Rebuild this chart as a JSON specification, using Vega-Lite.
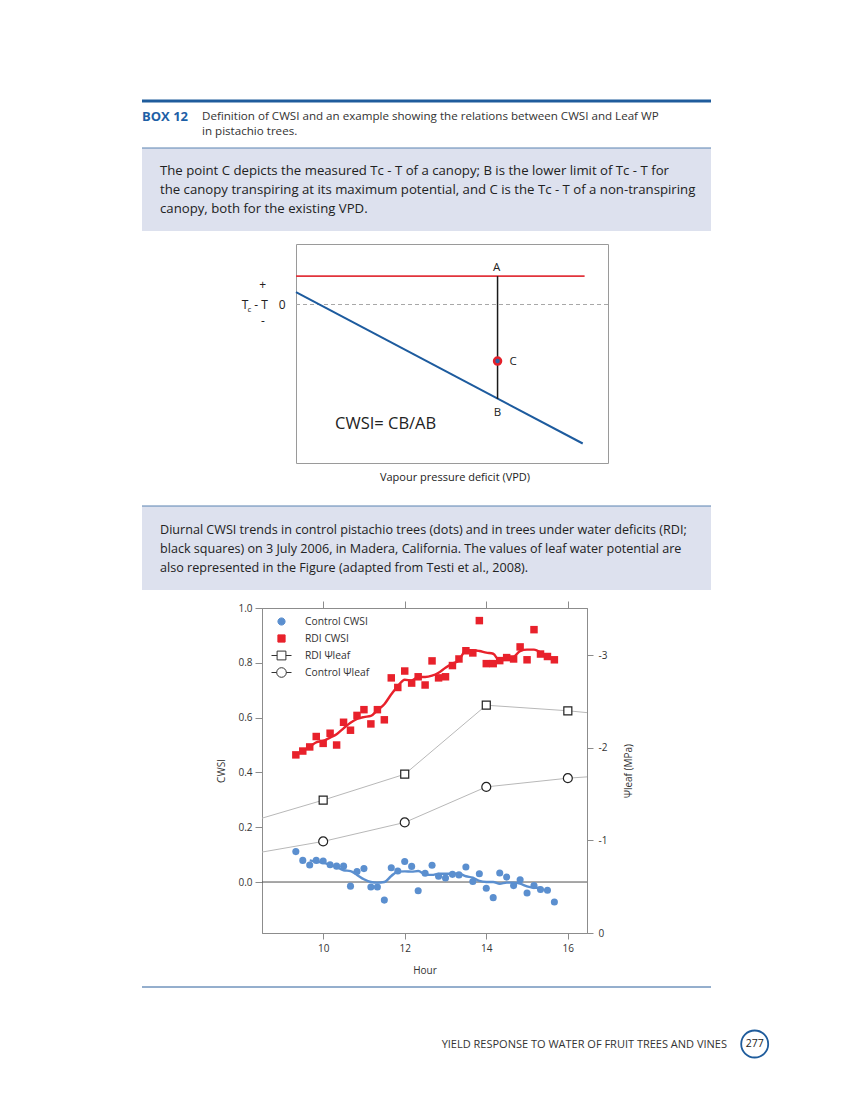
{
  "$schema": "https://vega.github.io/schema/vega-lite/v6.json",
  "background": "white",
  "padding": {"left": 140, "top": 97, "right": 0, "bottom": 0},
  "spacing": 0,
  "resolve": {"legend": {"shape": "independent", "fill": "independent", "stroke": "independent"}},
  "config": {
    "view": {"stroke": null},
    "font": "Open Sans",
    "concat": {"spacing": 0},
    "text": {"font": "Open Sans", "color": "#222222"},
    "axis": {"domainColor": "#8c8c8c", "tickColor": "#8c8c8c", "labelColor": "#333333", "labelFont": "Open Sans", "labelFontSize": 10, "titleFont": "Open Sans", "titleFontSize": 10, "titleFontWeight": "normal", "titleColor": "#333333", "grid": false}
  },
  "datasets": {
    "control_cwsi": [
      {"hour": 9.33, "cwsi": 0.111}, {"hour": 9.5, "cwsi": 0.079}, {"hour": 9.67, "cwsi": 0.062}, {"hour": 9.83, "cwsi": 0.079},
      {"hour": 10.0, "cwsi": 0.077}, {"hour": 10.17, "cwsi": 0.063}, {"hour": 10.33, "cwsi": 0.058}, {"hour": 10.5, "cwsi": 0.058},
      {"hour": 10.67, "cwsi": -0.015}, {"hour": 10.83, "cwsi": 0.038}, {"hour": 11.0, "cwsi": 0.049}, {"hour": 11.17, "cwsi": -0.018},
      {"hour": 11.33, "cwsi": -0.018}, {"hour": 11.5, "cwsi": -0.066}, {"hour": 11.67, "cwsi": 0.052}, {"hour": 11.83, "cwsi": 0.040},
      {"hour": 12.0, "cwsi": 0.075}, {"hour": 12.17, "cwsi": 0.057}, {"hour": 12.33, "cwsi": -0.032}, {"hour": 12.5, "cwsi": 0.032},
      {"hour": 12.67, "cwsi": 0.061}, {"hour": 12.83, "cwsi": 0.021}, {"hour": 13.0, "cwsi": 0.015}, {"hour": 13.17, "cwsi": 0.028},
      {"hour": 13.33, "cwsi": 0.026}, {"hour": 13.5, "cwsi": 0.055}, {"hour": 13.67, "cwsi": 0.002}, {"hour": 13.83, "cwsi": 0.030},
      {"hour": 14.0, "cwsi": -0.023}, {"hour": 14.17, "cwsi": -0.057}, {"hour": 14.33, "cwsi": 0.033}, {"hour": 14.5, "cwsi": 0.018},
      {"hour": 14.67, "cwsi": -0.013}, {"hour": 14.83, "cwsi": 0.008}, {"hour": 15.0, "cwsi": -0.040}, {"hour": 15.17, "cwsi": -0.013},
      {"hour": 15.33, "cwsi": -0.027}, {"hour": 15.5, "cwsi": -0.030}, {"hour": 15.67, "cwsi": -0.073}
    ],
    "rdi_cwsi": [
      {"hour": 9.33, "cwsi": 0.464}, {"hour": 9.5, "cwsi": 0.478}, {"hour": 9.67, "cwsi": 0.493}, {"hour": 9.83, "cwsi": 0.531},
      {"hour": 10.0, "cwsi": 0.506}, {"hour": 10.17, "cwsi": 0.543}, {"hour": 10.33, "cwsi": 0.500}, {"hour": 10.5, "cwsi": 0.583},
      {"hour": 10.67, "cwsi": 0.554}, {"hour": 10.83, "cwsi": 0.608}, {"hour": 11.0, "cwsi": 0.629}, {"hour": 11.17, "cwsi": 0.577},
      {"hour": 11.33, "cwsi": 0.629}, {"hour": 11.5, "cwsi": 0.592}, {"hour": 11.67, "cwsi": 0.745}, {"hour": 11.83, "cwsi": 0.710},
      {"hour": 12.0, "cwsi": 0.770}, {"hour": 12.17, "cwsi": 0.726}, {"hour": 12.33, "cwsi": 0.749}, {"hour": 12.5, "cwsi": 0.719},
      {"hour": 12.67, "cwsi": 0.807}, {"hour": 12.83, "cwsi": 0.745}, {"hour": 13.0, "cwsi": 0.749}, {"hour": 13.17, "cwsi": 0.790},
      {"hour": 13.33, "cwsi": 0.814}, {"hour": 13.5, "cwsi": 0.844}, {"hour": 13.67, "cwsi": 0.836}, {"hour": 13.83, "cwsi": 0.954},
      {"hour": 14.0, "cwsi": 0.797}, {"hour": 14.17, "cwsi": 0.797}, {"hour": 14.33, "cwsi": 0.808}, {"hour": 14.5, "cwsi": 0.819},
      {"hour": 14.67, "cwsi": 0.814}, {"hour": 14.83, "cwsi": 0.858}, {"hour": 15.0, "cwsi": 0.811}, {"hour": 15.17, "cwsi": 0.921},
      {"hour": 15.33, "cwsi": 0.832}, {"hour": 15.5, "cwsi": 0.823}, {"hour": 15.67, "cwsi": 0.811}
    ],
    "control_trend": [
      {"hour": 9.67, "cwsi": 0.079}, {"hour": 9.83, "cwsi": 0.074}, {"hour": 10.0, "cwsi": 0.071}, {"hour": 10.17, "cwsi": 0.062},
      {"hour": 10.33, "cwsi": 0.055}, {"hour": 10.5, "cwsi": 0.043}, {"hour": 10.67, "cwsi": 0.040}, {"hour": 10.83, "cwsi": 0.026},
      {"hour": 11.0, "cwsi": 0.010}, {"hour": 11.17, "cwsi": 0.000}, {"hour": 11.33, "cwsi": -0.002}, {"hour": 11.5, "cwsi": 0.000},
      {"hour": 11.67, "cwsi": 0.022}, {"hour": 11.83, "cwsi": 0.038}, {"hour": 12.0, "cwsi": 0.039}, {"hour": 12.17, "cwsi": 0.038},
      {"hour": 12.33, "cwsi": 0.040}, {"hour": 12.5, "cwsi": 0.028}, {"hour": 12.67, "cwsi": 0.026}, {"hour": 12.83, "cwsi": 0.030},
      {"hour": 13.0, "cwsi": 0.030}, {"hour": 13.17, "cwsi": 0.030}, {"hour": 13.33, "cwsi": 0.030}, {"hour": 13.5, "cwsi": 0.021},
      {"hour": 13.67, "cwsi": 0.016}, {"hour": 13.83, "cwsi": 0.004}, {"hour": 14.0, "cwsi": 0.000}, {"hour": 14.17, "cwsi": 0.000},
      {"hour": 14.33, "cwsi": -0.006}, {"hour": 14.5, "cwsi": -0.002}, {"hour": 14.67, "cwsi": -0.002}, {"hour": 14.83, "cwsi": -0.006},
      {"hour": 15.0, "cwsi": -0.016}, {"hour": 15.17, "cwsi": -0.021}, {"hour": 15.33, "cwsi": -0.021}
    ],
    "rdi_trend": [
      {"hour": 9.67, "cwsi": 0.493}, {"hour": 9.83, "cwsi": 0.510}, {"hour": 10.0, "cwsi": 0.515}, {"hour": 10.17, "cwsi": 0.527},
      {"hour": 10.33, "cwsi": 0.539}, {"hour": 10.5, "cwsi": 0.561}, {"hour": 10.67, "cwsi": 0.581}, {"hour": 10.83, "cwsi": 0.595},
      {"hour": 11.0, "cwsi": 0.602}, {"hour": 11.17, "cwsi": 0.606}, {"hour": 11.33, "cwsi": 0.627}, {"hour": 11.5, "cwsi": 0.649},
      {"hour": 11.67, "cwsi": 0.685}, {"hour": 11.83, "cwsi": 0.715}, {"hour": 12.0, "cwsi": 0.738}, {"hour": 12.17, "cwsi": 0.736},
      {"hour": 12.33, "cwsi": 0.748}, {"hour": 12.5, "cwsi": 0.748}, {"hour": 12.67, "cwsi": 0.753}, {"hour": 12.83, "cwsi": 0.764},
      {"hour": 13.0, "cwsi": 0.782}, {"hour": 13.17, "cwsi": 0.797}, {"hour": 13.33, "cwsi": 0.809}, {"hour": 13.5, "cwsi": 0.846},
      {"hour": 13.67, "cwsi": 0.846}, {"hour": 13.83, "cwsi": 0.843}, {"hour": 14.0, "cwsi": 0.837}, {"hour": 14.17, "cwsi": 0.833},
      {"hour": 14.33, "cwsi": 0.807}, {"hour": 14.5, "cwsi": 0.816}, {"hour": 14.67, "cwsi": 0.821}, {"hour": 14.83, "cwsi": 0.843},
      {"hour": 15.0, "cwsi": 0.848}, {"hour": 15.17, "cwsi": 0.848}, {"hour": 15.33, "cwsi": 0.837}
    ],
    "leaf_wp": [
      {"treatment": "RDI", "hour": 8.5, "psi": -1.24, "measured": false},
      {"treatment": "RDI", "hour": 10, "psi": -1.435, "measured": true},
      {"treatment": "RDI", "hour": 12, "psi": -1.715, "measured": true},
      {"treatment": "RDI", "hour": 14, "psi": -2.46, "measured": true},
      {"treatment": "RDI", "hour": 16, "psi": -2.40, "measured": true},
      {"treatment": "RDI", "hour": 16.47, "psi": -2.38, "measured": false},
      {"treatment": "Control", "hour": 8.5, "psi": -0.874, "measured": false},
      {"treatment": "Control", "hour": 10, "psi": -0.989, "measured": true},
      {"treatment": "Control", "hour": 12, "psi": -1.194, "measured": true},
      {"treatment": "Control", "hour": 14, "psi": -1.578, "measured": true},
      {"treatment": "Control", "hour": 16, "psi": -1.672, "measured": true},
      {"treatment": "Control", "hour": 16.47, "psi": -1.686, "measured": false}
    ],
    "schematic_lines": [
      {"line": "upper", "vpd": 0, "tct": 1.42}, {"line": "upper", "vpd": 9.25, "tct": 1.42},
      {"line": "lower", "vpd": 0, "tct": 0.62}, {"line": "lower", "vpd": 9.19, "tct": -6.95},
      {"line": "AB", "vpd": 6.46, "tct": 1.42}, {"line": "AB", "vpd": 6.46, "tct": -4.72}
    ],
    "schematic_point": [{"label": "C", "vpd": 6.46, "tct": -2.83}]
  },
  "vconcat": [
    {
      "width": 569, "height": 146,
      "data": {"values": [{}]},
      "layer": [
        {"mark": {"type": "rect", "color": "#dde1ee"},
         "encoding": {"x": {"datum": 0, "type": "quantitative", "scale": {"domain": [0, 569], "nice": false, "zero": false}, "axis": null}, "x2": {"datum": 569},
                      "y": {"datum": 51, "type": "quantitative", "scale": {"domain": [0, 146], "nice": false, "zero": false, "reverse": true}, "axis": null}, "y2": {"datum": 134}}},
        {"mark": {"type": "rule", "color": "#1f5c9c", "strokeWidth": 3}, "encoding": {"x": {"datum": 0}, "x2": {"datum": 569}, "y": {"datum": 4}}},
        {"mark": {"type": "rule", "color": "#5b83b1", "strokeWidth": 1}, "encoding": {"x": {"datum": 0}, "x2": {"datum": 569}, "y": {"datum": 51}}},
        {"mark": {"type": "text", "text": "BOX 12", "fontSize": 13, "fontWeight": "bold", "color": "#1d5fa6", "align": "left", "baseline": "middle"}, "encoding": {"x": {"datum": 0}, "y": {"datum": 20}}},
        {"mark": {"type": "text", "text": "Definition of CWSI and an example showing the relations between CWSI and Leaf WP", "fontSize": 11.6, "color": "#333333", "align": "left", "baseline": "middle"}, "encoding": {"x": {"datum": 60}, "y": {"datum": 20}}},
        {"mark": {"type": "text", "text": "in pistachio trees.", "fontSize": 11.6, "color": "#333333", "align": "left", "baseline": "middle"}, "encoding": {"x": {"datum": 60}, "y": {"datum": 35}}},
        {"mark": {"type": "text", "text": "The point C depicts the measured Tc - T of a canopy; B is the lower limit of Tc - T for", "fontSize": 13.2, "align": "left", "baseline": "middle"}, "encoding": {"x": {"datum": 18}, "y": {"datum": 74}}},
        {"mark": {"type": "text", "text": "the canopy transpiring at its maximum potential, and C is the Tc - T of a non-transpiring", "fontSize": 13.2, "align": "left", "baseline": "middle"}, "encoding": {"x": {"datum": 18}, "y": {"datum": 93}}},
        {"mark": {"type": "text", "text": "canopy, both for the existing VPD.", "fontSize": 13.2, "align": "left", "baseline": "middle"}, "encoding": {"x": {"datum": 18}, "y": {"datum": 112}}}
      ]
    },
    {
      "hconcat": [
        {"width": 99, "height": 1, "data": {"values": []}, "mark": "point"},
        {
          "width": 312, "height": 219,
          "view": {"stroke": "#9a9a9a", "strokeWidth": 1},
          "layer": [
            {"data": {"values": [{}]}, "mark": {"type": "rule", "color": "#a8a8a8", "strokeDash": [4, 3], "strokeWidth": 1},
             "encoding": {"y": {"datum": 0, "type": "quantitative", "scale": {"domain": [-7.925, 3.025], "nice": false, "zero": false}, "axis": null}}},
            {"data": {"name": "schematic_lines"}, "transform": [{"filter": "datum.line == 'upper'"}], "mark": {"type": "line", "color": "#e2343c", "strokeWidth": 1.6},
             "encoding": {"x": {"field": "vpd", "type": "quantitative", "scale": {"domain": [0, 10], "nice": false, "zero": false}, "axis": null}, "y": {"field": "tct", "type": "quantitative"}}},
            {"data": {"name": "schematic_lines"}, "transform": [{"filter": "datum.line == 'lower'"}], "mark": {"type": "line", "color": "#1d5b9e", "strokeWidth": 2},
             "encoding": {"x": {"field": "vpd", "type": "quantitative"}, "y": {"field": "tct", "type": "quantitative"}}},
            {"data": {"name": "schematic_lines"}, "transform": [{"filter": "datum.line == 'AB'"}], "mark": {"type": "line", "color": "#1a1a1a", "strokeWidth": 1.5},
             "encoding": {"x": {"field": "vpd", "type": "quantitative"}, "y": {"field": "tct", "type": "quantitative"}}},
            {"data": {"name": "schematic_point"}, "mark": {"type": "point", "shape": "circle", "filled": true, "fill": "#2d63a8", "stroke": "#e4202a", "strokeWidth": 2.5, "size": 49, "opacity": 1},
             "encoding": {"x": {"field": "vpd", "type": "quantitative"}, "y": {"field": "tct", "type": "quantitative"}}},
            {"data": {"values": [{}]}, "mark": {"type": "text", "text": "A", "fontSize": 11.5, "align": "center", "baseline": "middle"}, "encoding": {"x": {"datum": 6.43}, "y": {"datum": 1.84}}},
            {"data": {"values": [{}]}, "mark": {"type": "text", "text": "B", "fontSize": 11.5, "align": "center", "baseline": "middle"}, "encoding": {"x": {"datum": 6.46}, "y": {"datum": -5.42}}},
            {"data": {"values": [{}]}, "mark": {"type": "text", "text": "C", "fontSize": 11.5, "align": "center", "baseline": "middle"}, "encoding": {"x": {"datum": 6.96}, "y": {"datum": -2.86}}},
            {"data": {"values": [{}]}, "mark": {"type": "text", "text": "CWSI= CB/AB", "fontSize": 16.5, "align": "left", "baseline": "middle"}, "encoding": {"x": {"datum": 1.25}, "y": {"datum": -5.97}}},
            {"data": {"values": [{}]}, "mark": {"type": "text", "text": "+", "fontSize": 12, "align": "center", "baseline": "middle"}, "encoding": {"x": {"datum": -1.07}, "y": {"datum": 1.0}}},
            {"data": {"values": [{}]}, "mark": {"type": "text", "text": "-", "fontSize": 12, "align": "center", "baseline": "middle"}, "encoding": {"x": {"datum": -1.06}, "y": {"datum": -0.84}}},
            {"data": {"values": [{}]}, "mark": {"type": "text", "text": "0", "fontSize": 12, "align": "center", "baseline": "middle"}, "encoding": {"x": {"datum": -0.44}, "y": {"datum": 0}}},
            {"data": {"values": [{}]}, "mark": {"type": "text", "text": "T", "fontSize": 12, "align": "center", "baseline": "middle"}, "encoding": {"x": {"datum": -1.635}, "y": {"datum": 0}}},
            {"data": {"values": [{}]}, "mark": {"type": "text", "text": "c", "fontSize": 8, "align": "center", "baseline": "middle"}, "encoding": {"x": {"datum": -1.49}, "y": {"datum": -0.26}}},
            {"data": {"values": [{}]}, "mark": {"type": "text", "text": "- T", "fontSize": 12, "align": "center", "baseline": "middle"}, "encoding": {"x": {"datum": -1.12}, "y": {"datum": 0}}}
          ]
        }
      ]
    },
    {
      "width": 569, "height": 136,
      "data": {"values": [{}]},
      "layer": [
        {"mark": {"type": "rect", "color": "#dde1ee"},
         "encoding": {"x": {"datum": 0, "type": "quantitative", "scale": {"domain": [0, 569], "nice": false, "zero": false}, "axis": null}, "x2": {"datum": 569},
                      "y": {"datum": 42, "type": "quantitative", "scale": {"domain": [0, 136], "nice": false, "zero": false, "reverse": true}, "axis": null}, "y2": {"datum": 126}}},
        {"mark": {"type": "rule", "color": "#5b83b1", "strokeWidth": 1}, "encoding": {"x": {"datum": 0}, "x2": {"datum": 569}, "y": {"datum": 42}}},
        {"mark": {"type": "text", "text": "Vapour pressure deficit (VPD)", "fontSize": 11, "color": "#222222", "align": "center", "baseline": "middle"}, "encoding": {"x": {"datum": 313}, "y": {"datum": 14}}},
        {"mark": {"type": "text", "text": "Diurnal CWSI trends in control pistachio trees (dots) and in trees under water deficits (RDI;", "fontSize": 12.6, "align": "left", "baseline": "middle"}, "encoding": {"x": {"datum": 18}, "y": {"datum": 66}}},
        {"mark": {"type": "text", "text": "black squares) on 3 July 2006, in Madera, California. The values of leaf water potential are", "fontSize": 12.6, "align": "left", "baseline": "middle"}, "encoding": {"x": {"datum": 18}, "y": {"datum": 85}}},
        {"mark": {"type": "text", "text": "also represented in the Figure (adapted from Testi et al., 2008).", "fontSize": 12.6, "align": "left", "baseline": "middle"}, "encoding": {"x": {"datum": 18}, "y": {"datum": 104}}}
      ]
    },
    {
      "resolve": {"legend": {"shape": "independent", "fill": "independent", "stroke": "independent"}},
      "hconcat": [
        {"width": 74, "height": 1, "data": {"values": []}, "mark": "point"},
        {
          "width": 325, "height": 325,
          "view": {"stroke": "#8c8c8c", "strokeWidth": 1},
          "layer": [
            {
              "layer": [
                {"data": {"values": [{}]}, "mark": {"type": "rule", "color": "#505050", "strokeWidth": 1},
                 "encoding": {"y": {"datum": 0, "type": "quantitative", "scale": {"domain": [-0.186, 1.0], "nice": false, "zero": false},
                                    "axis": {"orient": "left", "values": [0, 0.2, 0.4, 0.6, 0.8, 1.0], "format": ".1f", "title": "CWSI", "tickSize": 7, "labelPadding": 3, "titlePadding": 11}}}},
                {"data": {"name": "control_cwsi"}, "mark": {"type": "point", "shape": "circle", "filled": true, "color": "#5b8fcf", "size": 50, "opacity": 1},
                 "encoding": {"x": {"field": "hour", "type": "quantitative", "scale": {"domain": [8.5, 16.47], "nice": false, "zero": false},
                                    "axis": {"orient": "bottom", "values": [10, 12, 14, 16], "format": "d", "title": "Hour", "tickSize": 6, "labelPadding": 4, "titlePadding": 12}},
                              "y": {"field": "cwsi", "type": "quantitative"}}},
                {"data": {"name": "rdi_cwsi"}, "mark": {"type": "point", "shape": "square", "filled": true, "color": "#e8212b", "size": 56, "opacity": 1},
                 "encoding": {"x": {"field": "hour", "type": "quantitative"}, "y": {"field": "cwsi", "type": "quantitative"}}},
                {"data": {"name": "control_trend"}, "mark": {"type": "line", "color": "#5b8fcf", "strokeWidth": 2.4, "interpolate": "monotone"},
                 "encoding": {"x": {"field": "hour", "type": "quantitative"}, "y": {"field": "cwsi", "type": "quantitative"}}},
                {"data": {"name": "rdi_trend"}, "mark": {"type": "line", "color": "#e8212b", "strokeWidth": 2.4, "interpolate": "monotone"},
                 "encoding": {"x": {"field": "hour", "type": "quantitative"}, "y": {"field": "cwsi", "type": "quantitative"}}},
                {"data": {"name": "control_cwsi"}, "transform": [{"filter": "false"}],
                 "mark": {"type": "point", "size": 256, "strokeWidth": 1, "opacity": 1, "filled": false},
                 "encoding": {
                   "x": {"field": "hour", "type": "quantitative"}, "y": {"field": "cwsi", "type": "quantitative"},
                   "shape": {"field": "series", "type": "nominal",
                             "scale": {"domain": ["Control CWSI", "RDI CWSI", "RDI Ψleaf", "Control Ψleaf"],
                                       "range": ["M0.45,0A0.45,0.45,0,1,1,-0.45,0A0.45,0.45,0,1,1,0.45,0Z", "M-0.45,-0.45H0.45V0.45H-0.45Z", "M-1.25,0H-0.55M0.55,0H1.25M-0.55,-0.55H0.55V0.55H-0.55Z", "M-1.25,0H-0.6M0.6,0H1.25M0.6,0A0.6,0.6,0,1,1,-0.6,0A0.6,0.6,0,1,1,0.6,0Z"]},
                             "legend": {"orient": "none", "legendX": 11, "legendY": 5, "title": null, "labelFont": "Open Sans", "labelFontSize": 10.3, "labelColor": "#333333", "symbolSize": 256, "labelOffset": 15, "rowPadding": 2, "symbolStrokeWidth": 1}},
                   "fill": {"field": "series", "type": "nominal",
                            "scale": {"domain": ["Control CWSI", "RDI CWSI", "RDI Ψleaf", "Control Ψleaf"], "range": ["#5b8fcf", "#e8212b", "#ffffff", "#ffffff"]},
                            "legend": {"orient": "none", "legendX": 11, "legendY": 5, "title": null, "labelFont": "Open Sans", "labelFontSize": 10.3, "labelColor": "#333333", "symbolSize": 256, "labelOffset": 15, "rowPadding": 2, "symbolStrokeWidth": 1}},
                   "stroke": {"field": "series", "type": "nominal",
                              "scale": {"domain": ["Control CWSI", "RDI CWSI", "RDI Ψleaf", "Control Ψleaf"], "range": ["#5b8fcf", "#e8212b", "#333333", "#333333"]},
                              "legend": {"orient": "none", "legendX": 11, "legendY": 5, "title": null, "labelFont": "Open Sans", "labelFontSize": 10.3, "labelColor": "#333333", "symbolSize": 256, "labelOffset": 15, "rowPadding": 2, "symbolStrokeWidth": 1}}
                 }}
              ]
            },
            {
              "layer": [
                {"data": {"name": "leaf_wp"}, "mark": {"type": "line", "color": "#b8b8b8", "strokeWidth": 1, "clip": true},
                 "encoding": {"x": {"field": "hour", "type": "quantitative", "scale": {"domain": [8.5, 16.47], "nice": false, "zero": false},
                                    "axis": {"orient": "top", "values": [10, 12, 14, 16], "labels": false, "title": null, "tickSize": 7}},
                              "y": {"field": "psi", "type": "quantitative", "scale": {"domain": [0, -3.51], "nice": false, "zero": false},
                                    "axis": {"orient": "right", "values": [0, -1, -2, -3], "labelExpr": "datum.value == 0 ? '0' : '-' + abs(datum.value)", "title": "Ψleaf (MPa)", "titleAngle": 270, "tickSize": 6, "labelPadding": 5, "titlePadding": 27}},
                              "detail": {"field": "treatment", "type": "nominal"}}},
                {"data": {"name": "leaf_wp"}, "transform": [{"filter": "datum.measured && datum.treatment == 'RDI'"}],
                 "mark": {"type": "point", "shape": "square", "filled": true, "fill": "#ffffff", "stroke": "#222222", "strokeWidth": 1.2, "size": 64, "opacity": 1},
                 "encoding": {"x": {"field": "hour", "type": "quantitative"}, "y": {"field": "psi", "type": "quantitative"}}},
                {"data": {"name": "leaf_wp"}, "transform": [{"filter": "datum.measured && datum.treatment == 'Control'"}],
                 "mark": {"type": "point", "shape": "circle", "filled": true, "fill": "#ffffff", "stroke": "#222222", "strokeWidth": 1.2, "size": 80, "opacity": 1},
                 "encoding": {"x": {"field": "hour", "type": "quantitative"}, "y": {"field": "psi", "type": "quantitative"}}}
              ]
            }
          ],
          "resolve": {"scale": {"x": "independent", "y": "independent"}, "axis": {"x": "independent", "y": "independent"}}
        }
      ]
    },
    {
      "width": 630, "height": 125,
      "data": {"values": [{}]},
      "layer": [
        {"mark": {"type": "rule", "color": "#2b5f9b", "strokeWidth": 1},
         "encoding": {"x": {"datum": 0, "type": "quantitative", "scale": {"domain": [0, 630], "nice": false, "zero": false}, "axis": null}, "x2": {"datum": 569},
                      "y": {"datum": 11, "type": "quantitative", "scale": {"domain": [0, 125], "nice": false, "zero": false, "reverse": true}, "axis": null}}},
        {"mark": {"type": "text", "text": "YIELD RESPONSE TO WATER OF FRUIT TREES AND VINES", "fontSize": 11, "color": "#333333", "align": "right", "baseline": "middle"}, "encoding": {"x": {"datum": 585}, "y": {"datum": 69}}},
        {"mark": {"type": "point", "shape": "circle", "size": 729, "filled": true, "fill": "#ffffff", "stroke": "#1f5c9c", "strokeWidth": 1.8, "opacity": 1}, "encoding": {"x": {"datum": 612.7}, "y": {"datum": 68}}},
        {"mark": {"type": "text", "text": "277", "fontSize": 10.5, "color": "#222222", "align": "center", "baseline": "middle"}, "encoding": {"x": {"datum": 612.7}, "y": {"datum": 68}}}
      ]
    }
  ]
}
